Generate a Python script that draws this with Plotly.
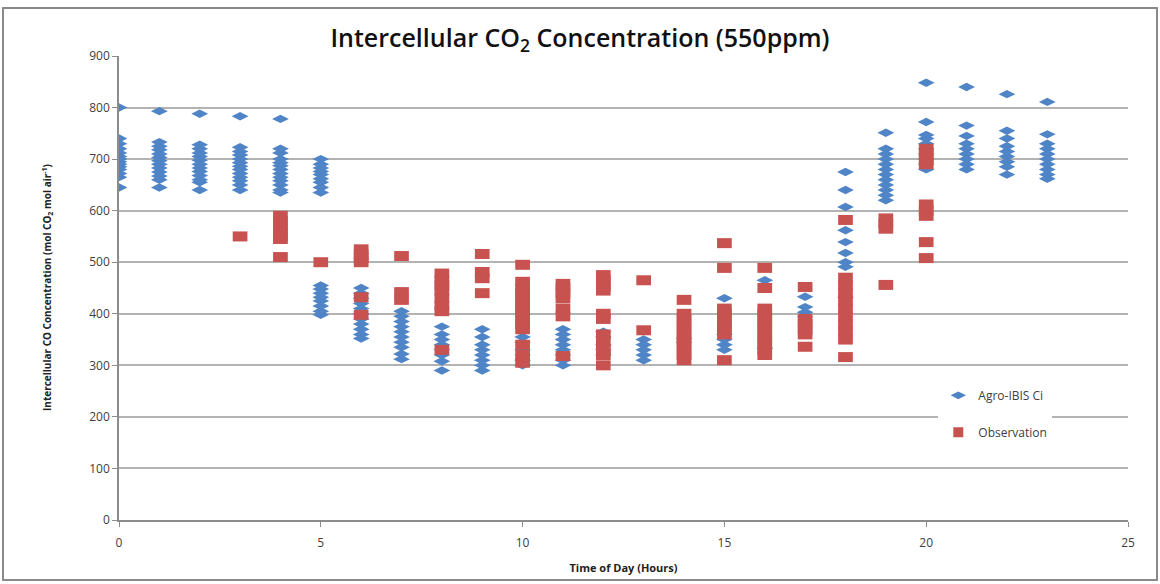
import plotly.graph_objects as go

# Hour of day and intercellular CO2 (model output, Agro-IBIS Ci)
model_hours = (
    [0] * 14 + [1] * 13 + [2] * 13 + [3] * 13 + [4] * 13 + [5] * 17 + [6] * 11 + [7] * 10
    + [8] * 8 + [9] * 8 + [10] * 6 + [11] * 8 + [12] * 5 + [13] * 5 + [14] * 2 + [15] * 5
    + [16] * 2 + [17] * 4 + [18] * 9 + [19] * 12 + [20] * 10 + [21] * 9 + [22] * 9 + [23] * 10
)
model_ci = [
    800, 740, 730, 720, 712, 705, 700, 695, 690, 685, 680, 672, 665, 645,
    793, 733, 725, 718, 710, 703, 697, 690, 683, 675, 667, 660, 645,
    788, 728, 720, 712, 705, 698, 690, 683, 676, 668, 660, 655, 640,
    783, 723, 715, 708, 700, 693, 686, 680, 672, 665, 658, 650, 640,
    778, 720, 712, 700, 693, 687, 680, 672, 665, 658, 650, 640, 635,
    700, 690, 683, 676, 670, 662, 655, 645, 635, 455, 448, 440, 432, 425, 415, 405, 398,
    450, 440, 430, 420, 410, 400, 390, 380, 370, 360, 352,
    405, 395, 385, 375, 365, 355, 345, 335, 322, 312,
    375, 360, 350, 340, 330, 320, 308, 290,
    370, 355, 340, 330, 320, 310, 300, 290,
    355, 345, 330, 320, 310, 300,
    370, 360, 350, 340, 330, 320, 310, 300,
    365, 355, 340, 330, 320,
    350, 340, 330, 320, 310,
    352, 345,
    430, 360, 350, 340, 330,
    465, 333,
    433, 413, 403, 394,
    675, 640, 607, 562, 539, 518, 500, 491, 432,
    751, 720, 710, 700, 690, 680, 670, 660, 650, 640, 630, 620,
    848, 772, 747, 740, 730, 720, 710, 700, 690, 680,
    840, 765, 745, 730, 720, 710, 700, 690, 680,
    826, 755, 740, 725, 715, 705, 695, 685, 670,
    811, 748, 730, 720, 710, 700, 690, 680, 670, 662,
]

# Observed intercellular CO2
obs_hours = (
    [3] * 1 + [4] * 7 + [5] * 1 + [6] * 6 + [7] * 3 + [8] * 8 + [9] * 4 + [10] * 14
    + [11] * 7 + [12] * 11 + [13] * 2 + [14] * 11 + [15] * 9 + [16] * 12 + [17] * 6
    + [18] * 11 + [19] * 4 + [20] * 9
)
obs_ci = [
    550,
    590, 580, 570, 560, 550, 545, 510,
    500,
    525, 515, 508, 500, 432, 398,
    512, 442, 427,
    478, 465, 455, 445, 430, 415, 405, 330,
    516, 481, 469, 440,
    495, 462, 450, 440, 430, 420, 410, 400, 390, 380, 370, 340, 320, 305,
    458, 450, 440, 430, 410, 395, 318,
    475, 465, 455, 445, 400, 390, 360, 345, 330, 320, 300,
    465, 368,
    427, 400, 390, 380, 370, 360, 350, 340, 330, 320, 310,
    537, 489, 410, 400, 390, 380, 370, 360, 310,
    489, 450, 410, 400, 390, 380, 370, 360, 350, 340, 330, 320,
    452, 390, 380, 370, 360, 336,
    582, 470, 455, 440, 425, 410, 395, 380, 365, 350, 316,
    585, 575, 565, 456,
    720, 710, 700, 690, 612, 600, 590, 539, 508,
]

x_ticks = [0, 5, 10, 15, 20, 25]
y_ticks = [0, 100, 200, 300, 400, 500, 600, 700, 800, 900]

BLUE = "#4F85C6"
RED = "#C8524F"
FONT = "Open Sans, Noto Sans, sans-serif"

fig = go.Figure()

fig.add_trace(go.Scatter(
    x=model_hours, y=model_ci, mode="markers", name="Agro-IBIS Ci",
    marker=dict(symbol="diamond-wide", size=12, color=BLUE, line=dict(width=0)),
    showlegend=False,
))
# Observation markers drawn as short thick horizontal bars -> flat rectangles
fig.add_trace(go.Scatter(
    x=obs_hours, y=obs_ci, mode="markers", name="Observation",
    marker=dict(symbol="line-ew", size=10.5, color=RED, line=dict(width=10, color=RED)),
    showlegend=False,
))

# Legend entries
fig.add_trace(go.Scatter(
    x=[None], y=[None], mode="markers", name="Agro-IBIS Ci", legendgroup="a",
    marker=dict(symbol="diamond-wide", size=11, color=BLUE),
))
fig.add_trace(go.Scatter(
    x=[None], y=[None], mode="markers", name="Observation", legendgroup="b",
    marker=dict(symbol="square", size=10, color=RED),
))

fig.update_layout(
    width=1160, height=584,
    margin=dict(l=119, r=32, t=56, b=64, autoexpand=False),
    paper_bgcolor="white", plot_bgcolor="white",
    font=dict(family=FONT, color="#404040", size=12),
    title=dict(
        text="Intercellular CO<sub>2</sub> Concentration (550ppm)",
        x=0.5, xanchor="center", y=1 - 38 / 584, yanchor="middle",
        font=dict(family=FONT, size=25, color="#111111", weight=600),
    ),
    legend=dict(
        x=0.812, y=0.3, xanchor="left", yanchor="top",
        bgcolor="white", borderwidth=0, tracegroupgap=18,
        font=dict(family=FONT, size=12, color="#404040"),
    ),
    xaxis=dict(
        range=[0, 25], tickvals=x_ticks, ticktext=[str(v) for v in x_ticks],
        showgrid=False, zeroline=False, showline=True, linecolor="#8c8c8c", linewidth=1.5,
        ticks="outside", ticklen=5, tickcolor="#8c8c8c", ticklabelstandoff=6,
        tickfont=dict(size=12, color="#404040"), automargin=False,
        title=dict(text="<b>Time of Day (Hours)</b>", font=dict(size=11, color="#222222"), standoff=14),
    ),
    yaxis=dict(
        range=[0, 900], tickvals=y_ticks,
        showgrid=True, gridcolor="#b3b3b3", gridwidth=1.5,
        zeroline=False, showline=True, linecolor="#8c8c8c", linewidth=1.5,
        ticks="outside", ticklen=5, tickcolor="#8c8c8c",
        tickfont=dict(size=12, color="#404040"), automargin=False,
    ),
    annotations=[dict(
        text="<b>Intercellular CO Concentration (mol CO<sub>2</sub> mol air<sup>-1</sup>)</b>",
        xref="paper", yref="paper", x=-(119 - 47) / 1009, y=0.5,
        xanchor="center", yanchor="middle", textangle=-90, showarrow=False,
        font=dict(family=FONT, size=10, color="#222222"),
    )],
    shapes=[dict(
        type="rect", xref="paper", yref="paper",
        x0=-(119 - 3) / 1009, x1=1 + (1157 - 1128) / 1009,
        y0=-(580 - 520) / 464, y1=1 + (56 - 8) / 464,
        line=dict(color="#8a8a8a", width=2), fillcolor="rgba(0,0,0,0)", layer="below",
    )],
)

fig.write_html("out.html")
